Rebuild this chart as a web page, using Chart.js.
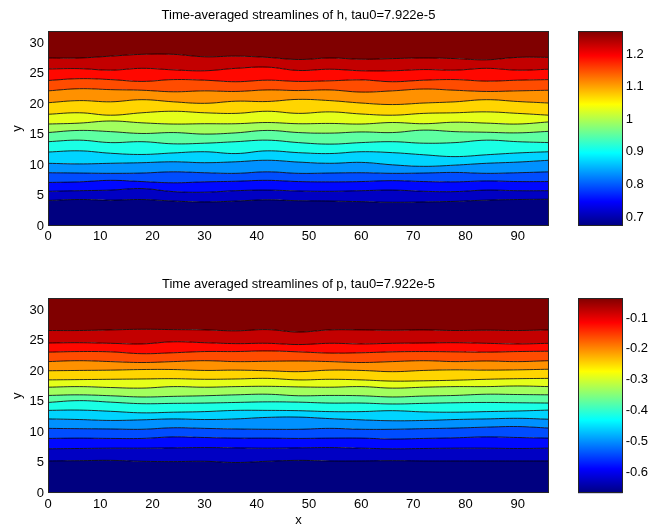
<!DOCTYPE html>
<html><head><meta charset="utf-8">
<script src="https://cdn.jsdelivr.net/npm/chart.js@4.4.0/dist/chart.umd.min.js"></script>
<style>
html,body{margin:0;padding:0;background:#fff;width:650px;height:529px;overflow:hidden}
.c{position:absolute}
</style></head><body>
<div class="c" style="left:0;top:0;width:560px;height:250px"><canvas id="hPlot"></canvas></div>
<div class="c" style="left:560px;top:0;width:90px;height:250px"><canvas id="hBar"></canvas></div>
<div class="c" style="left:0;top:267px;width:560px;height:262px"><canvas id="pPlot"></canvas></div>
<div class="c" style="left:560px;top:267px;width:90px;height:262px"><canvas id="pBar"></canvas></div>
<script>
// ---- data ----
const xs = [0,6,12,18,24,30,36,42,48,54,60,66,72,78,84,90,96];
const xTicks = [0,10,20,30,40,50,60,70,80,90];
const yTicks = [0,5,10,15,20,25,30];
const yDomain = [0,32];
const xDomain = [0,96];

// contour lines of h, bottom to top
const hLines = [
  [4.2,4.35,4.25,4.35,4.1,3.95,4.1,4.3,4.15,4.1,4.0,3.9,3.95,4.05,4.25,4.35,4.4],
  [5.7,5.8,5.9,6.15,5.65,5.55,5.8,5.9,5.75,5.7,5.8,5.9,5.7,5.65,5.9,5.8,5.8],
  [7.15,7.25,7.5,7.3,7.1,7.25,7.35,7.5,7.3,7.25,7.3,7.45,7.3,7.25,7.4,7.3,7.3],
  [8.75,8.7,8.65,8.7,8.9,8.75,8.65,8.9,8.65,8.7,8.75,8.65,8.7,8.8,8.65,8.75,8.9],
  [10.3,10.2,10.3,10.4,10.55,10.4,10.55,10.8,10.5,10.3,10.45,10.05,9.8,10.0,10.3,10.5,10.8],
  [12.15,12.35,11.95,11.75,12.0,12.2,11.9,12.35,12.05,11.9,12.2,12.05,11.7,11.4,11.7,12.0,12.2],
  [13.85,14.1,13.7,13.85,13.5,13.6,13.85,14.1,13.7,13.45,13.7,13.85,13.6,13.7,14.1,13.85,13.7],
  [15.35,15.7,15.5,15.2,15.35,15.1,15.3,15.7,15.35,15.25,15.45,15.35,15.75,15.5,15.4,15.3,15.55],
  [16.75,16.9,17.25,16.95,16.75,16.8,16.8,17.0,16.8,16.85,16.75,17.0,16.8,17.05,16.9,16.75,17.1],
  [18.35,18.6,18.2,18.6,18.85,18.6,18.5,18.85,18.5,18.75,18.4,18.2,18.5,18.6,18.75,18.5,18.2],
  [20.25,20.6,20.4,20.75,20.4,20.15,20.5,20.45,20.8,20.6,20.2,19.95,20.2,20.4,20.75,20.45,20.2],
  [22.2,22.55,22.4,22.3,22.05,22.2,22.1,22.35,22.25,22.35,22.0,22.2,22.5,22.3,22.1,22.2,22.3],
  [23.9,24.2,24.05,23.75,24.05,23.95,23.7,23.95,23.75,23.85,24.0,23.7,23.95,24.05,23.8,23.95,24.05],
  [25.8,25.85,25.6,25.9,25.65,25.5,25.9,26.1,25.55,25.75,25.5,25.5,25.7,25.6,25.9,25.6,25.75],
  [27.6,27.6,27.9,28.2,28.2,27.8,27.9,27.7,27.35,27.6,27.4,27.5,27.6,27.5,27.3,27.7,27.7]
];
// contour lines of p, bottom to top
const pLines = [
  [5.3,5.35,5.4,5.25,5.2,5.25,5.05,5.25,5.4,5.3,5.3,5.35,5.3,5.3,5.3,5.3,5.3],
  [7.3,7.35,7.4,7.4,7.45,7.5,7.45,7.4,7.45,7.5,7.4,7.3,7.35,7.4,7.4,7.35,7.4],
  [9.0,9.05,9.0,9.0,9.25,9.15,9.05,9.05,9.0,9.05,9.05,8.9,9.0,9.1,9.25,9.15,9.05],
  [10.65,10.6,10.55,10.5,10.75,10.65,10.55,10.5,10.5,10.65,10.5,10.5,10.6,10.7,10.85,10.95,10.7],
  [12.2,12.1,11.95,12.05,12.2,12.1,12.2,12.45,12.5,12.25,12.05,11.9,11.95,12.1,12.2,12.3,12.15],
  [13.6,13.65,13.45,13.2,13.3,13.4,13.6,13.6,13.55,13.4,13.4,13.55,13.35,13.3,13.4,13.5,13.65],
  [14.9,15.2,14.95,14.7,14.75,14.8,14.9,15.0,14.95,14.8,14.8,14.65,14.75,14.85,14.9,14.85,14.8],
  [16.05,16.15,16.0,15.8,15.9,16.0,16.15,16.25,16.0,16.05,16.0,15.8,15.95,16.05,16.25,16.2,16.15],
  [17.4,17.5,17.35,17.25,17.5,17.4,17.5,17.55,17.45,17.4,17.5,17.25,17.4,17.5,17.5,17.6,17.5],
  [18.6,18.65,18.7,18.75,18.8,18.7,18.75,18.85,18.6,18.7,18.6,18.4,18.45,18.55,18.7,18.8,18.85],
  [20.1,20.15,20.2,20.3,20.3,20.15,20.2,20.1,19.95,20.2,20.15,19.95,20.15,20.25,20.2,20.25,20.35],
  [21.6,21.75,21.6,21.45,21.6,21.75,21.6,21.65,21.7,21.6,21.45,21.6,21.75,21.6,21.7,21.6,21.75],
  [23.15,23.25,23.2,22.9,23.05,23.25,23.25,23.35,23.2,23.0,23.05,23.2,23.25,23.2,23.15,23.25,23.3],
  [24.65,24.7,24.6,24.5,24.85,24.7,24.55,24.6,24.4,24.6,24.5,24.6,24.65,24.7,24.6,24.5,24.6],
  [26.7,26.7,26.8,26.9,26.85,26.8,26.65,26.85,26.45,26.8,26.8,26.75,26.8,26.7,26.75,26.7,26.8]
];
const hRange = [0.6725, 1.27];
const hBarTicks = [0.7,0.8,0.9,1.0,1.1,1.2];
const pRange = [-0.668, -0.036];
const pBarTicks = [-0.6,-0.5,-0.4,-0.3,-0.2,-0.1];
const hTitle = 'Time-averaged streamlines of h, tau0=7.922e-5';
const pTitle = 'Time averaged streamlines of p, tau0=7.922e-5';

// ---- styling helpers ----
const FONT = 'Liberation Sans, Arial, Helvetica, sans-serif';
const FS = 13;
Chart.defaults.font.family = FONT;
Chart.defaults.font.size = FS;
Chart.defaults.color = '#000';

function jetRGB(t){
  const c = v => Math.max(0, Math.min(1, v));
  return [c(1.5-Math.abs(4*t-3)), c(1.5-Math.abs(4*t-2)), c(1.5-Math.abs(4*t-1))].map(v=>Math.round(v*255));
}
function jet(t){ const [r,g,b] = jetRGB(t); return `rgb(${r},${g},${b})`; }

const boxPlugin = {
  id: 'box',
  afterDraw(chart){
    const a = chart.chartArea, ctx = chart.ctx;
    ctx.save();
    ctx.strokeStyle = '#262626';
    ctx.lineWidth = 1;
    ctx.strokeRect(Math.round(a.left)+0.5, Math.round(a.top)+0.5, Math.round(a.right-a.left)-1, Math.round(a.bottom-a.top)-1);
    ctx.restore();
  }
};

function setTicks(arr){ return scale => { scale.ticks = arr.map(v => ({value: v})); }; }
const fmt = v => String(Number(v.toFixed(2)));

function plotChart(id, lines, title, axisH, showX, titlePad){
  const nBands = lines.length + 1;
  const datasets = [];
  datasets.push({data: xs.map(x => ({x, y: yDomain[0]})), borderWidth: 0, pointRadius: 0, fill: false});
  lines.forEach((ln, i) => {
    datasets.push({
      data: xs.map((x, j) => ({x, y: ln[j]})),
      borderColor: '#000', borderWidth: 0.8, pointRadius: 0, tension: 0.4,
      fill: '-1', backgroundColor: jet(i/(nBands-1))
    });
  });
  datasets.push({data: xs.map(x => ({x, y: yDomain[1]})), borderWidth: 0, pointRadius: 0,
    fill: '-1', backgroundColor: jet(1)});
  return new Chart(document.getElementById(id), {
    type: 'line',
    data: {datasets},
    plugins: [boxPlugin],
    options: {
      responsive: true, maintainAspectRatio: false, animation: false,
      layout: {padding: {left: 0, right: 11, top: 0, bottom: 0}},
      plugins: {
        legend: {display: false}, tooltip: {enabled: false},
        filler: {drawTime: 'beforeDatasetsDraw'},
        title: {display: true, text: title, fullSize: false, font: {size: FS, weight: 'normal'}, color: '#000',
          padding: titlePad}
      },
      scales: {
        x: {type: 'linear', min: xDomain[0], max: xDomain[1],
          afterBuildTicks: setTicks(xTicks),
          afterFit: s => { s.height = axisH; },
          grid: {display: false, drawTicks: false}, border: {display: false},
          ticks: {padding: 3, maxRotation: 0, autoSkip: false, font: {size: FS}},
          title: {display: showX, text: 'x', font: {size: FS}, padding: {top: 0, bottom: 1}}
        },
        y: {type: 'linear', min: yDomain[0], max: yDomain[1],
          afterBuildTicks: setTicks(yTicks),
          afterFit: s => { s.width = 48; },
          grid: {display: false, drawTicks: false}, border: {display: false},
          ticks: {padding: 4, autoSkip: false, font: {size: FS}},
          title: {display: true, text: 'y', font: {size: FS}, padding: {top: 10, bottom: 0}}
        }
      }
    }
  });
}

function barChart(id, range, ticks, topPad, botPad){
  return new Chart(document.getElementById(id), {
    type: 'bar',
    data: {labels: [''], datasets: [{
      data: [[range[0], range[1]]],
      borderWidth: 0, barPercentage: 1, categoryPercentage: 1,
      backgroundColor: ctx => {
        const a = ctx.chart.chartArea;
        if (!a) return '#000080';
        const g = ctx.chart.ctx.createLinearGradient(0, a.bottom, 0, a.top);
        const stops = [0, 0.125, 0.375, 0.625, 0.875, 1];
        stops.forEach(s => g.addColorStop(s, jet(s)));
        return g;
      }
    }]},
    plugins: [boxPlugin],
    options: {
      responsive: true, maintainAspectRatio: false, animation: false,
      layout: {padding: {left: 18, right: 0, top: topPad, bottom: botPad}},
      plugins: {legend: {display: false}, tooltip: {enabled: false}},
      scales: {
        x: {display: false},
        y: {type: 'linear', position: 'right', min: range[0], max: range[1],
          afterBuildTicks: setTicks(ticks),
          afterFit: s => { s.width = 27.3; },
          grid: {display: false, drawTicks: false}, border: {display: false},
          ticks: {padding: 3, autoSkip: false, callback: v => fmt(v), font: {size: FS}}
        }
      }
    }
  });
}

plotChart('hPlot', hLines, hTitle, 24, false, {top: 7.8, bottom: 7.8});
plotChart('pPlot', pLines, pTitle, 35.7, true, {top: 9.5, bottom: 6.1});
barChart('hBar', hRange, hBarTicks, 31.2, 24);
barChart('pBar', pRange, pBarTicks, 31.2, 35.7);
</script>
</body></html>
